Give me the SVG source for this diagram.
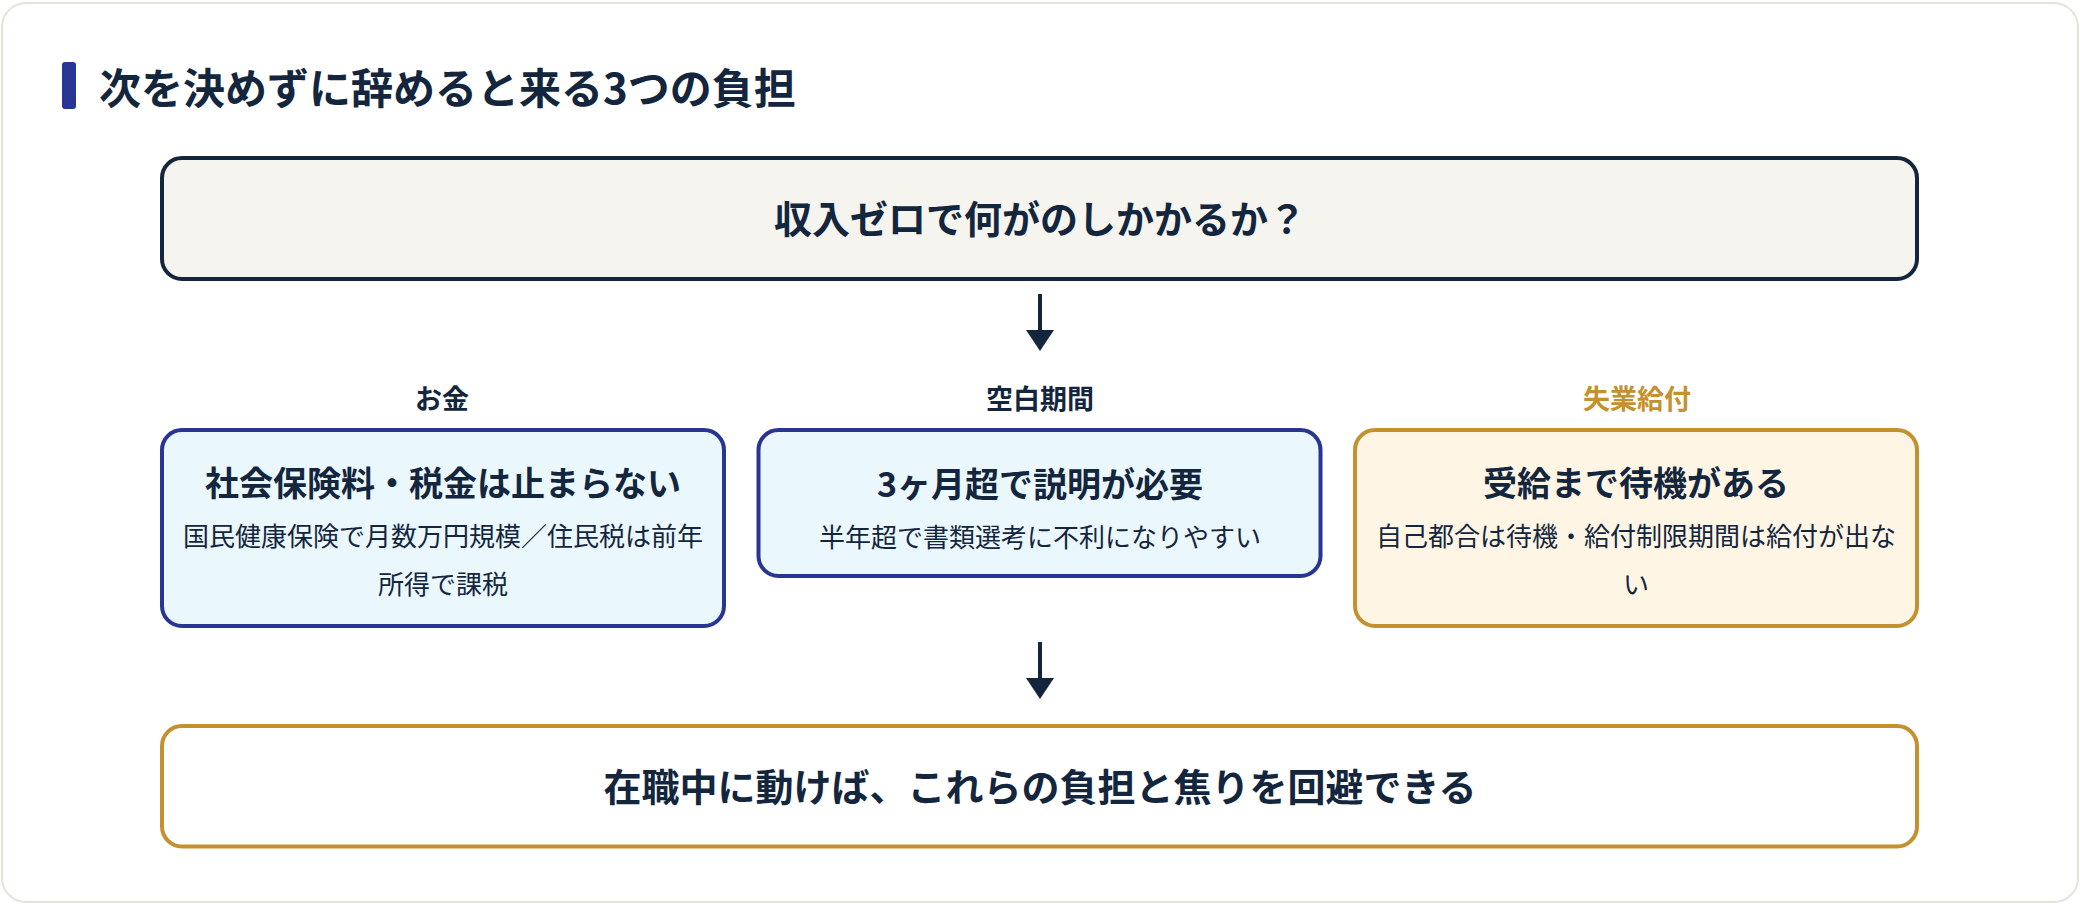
<svg xmlns="http://www.w3.org/2000/svg" width="2080" height="904" viewBox="0 0 2080 904">
<defs>
<style>
text{font-family:"Noto Sans CJK JP","Noto Sans",sans-serif;fill:#13263d;text-anchor:middle}
.h{font-size:38px;font-weight:700}
.bt{font-size:34px;font-weight:700}
.bd{font-size:26px;font-weight:400}
.cat{font-size:27px;font-weight:700}
.blue{fill:#eaf7fd;stroke:#283593;stroke-width:4}
.gold{fill:#fff5e4;stroke:#c4912f;stroke-width:4}
.conn{stroke:#13263d;stroke-width:4;fill:none}
</style>
</defs>
<rect x="0" y="0" width="2080" height="904" fill="#ffffff"/>
<rect x="2" y="3" width="2076" height="899" rx="24" fill="#ffffff" stroke="#e6e4d9" stroke-width="2"/>
<g id="title">
<rect x="62" y="62" width="14" height="47" rx="3" fill="#283593"/>
<text x="99" y="104" style="text-anchor:start;font-size:42px;font-weight:700">次を決めずに辞めると来る3つの負担</text>
</g>
<g id="connectors">
<line class="conn" x1="1040" y1="294" x2="1040" y2="332"/>
<path d="M1026,330 L1054,330 L1040,351 Z" fill="#13263d"/>
<line class="conn" x1="1040" y1="642" x2="1040" y2="680"/>
<path d="M1026,678 L1054,678 L1040,699 Z" fill="#13263d"/>
</g>
<g id="top">
<rect x="162" y="158" width="1755" height="121" rx="20" fill="#f5f4ef" stroke="#13263d" stroke-width="4"/>
<text class="h" x="1040" y="233">収入ゼロで何がのしかかるか？</text>
</g>
<g id="money">
<text class="cat" x="442" y="409">お金</text>
<rect class="blue" x="162" y="430" width="562" height="196" rx="20"/>
<text class="bt" x="443" y="496">社会保険料・税金は止まらない</text>
<text class="bd" x="443" y="546">国民健康保険で月数万円規模／住民税は前年</text>
<text class="bd" x="443" y="594">所得で課税</text>
</g>
<g id="gap">
<text class="cat" x="1040" y="409">空白期間</text>
<rect class="blue" x="758.5" y="430" width="562" height="146" rx="20"/>
<text class="bt" x="1040" y="497">3ヶ月超で説明が必要</text>
<text class="bd" x="1040" y="547">半年超で書類選考に不利になりやすい</text>
</g>
<g id="benefit">
<text class="cat" x="1637" y="409" style="fill:#c4912f">失業給付</text>
<rect class="gold" x="1355" y="430" width="562" height="196" rx="20"/>
<text class="bt" x="1636" y="496">受給まで待機がある</text>
<text class="bd" x="1636" y="546">自己都合は待機・給付制限期間は給付が出な</text>
<text class="bd" x="1636" y="594">い</text>
</g>
<g id="bottom">
<rect x="162" y="726" width="1755" height="120.5" rx="20" fill="#ffffff" stroke="#c4912f" stroke-width="4"/>
<text class="h" x="1040" y="801">在職中に動けば、これらの負担と焦りを回避できる</text>
</g>
</svg>
